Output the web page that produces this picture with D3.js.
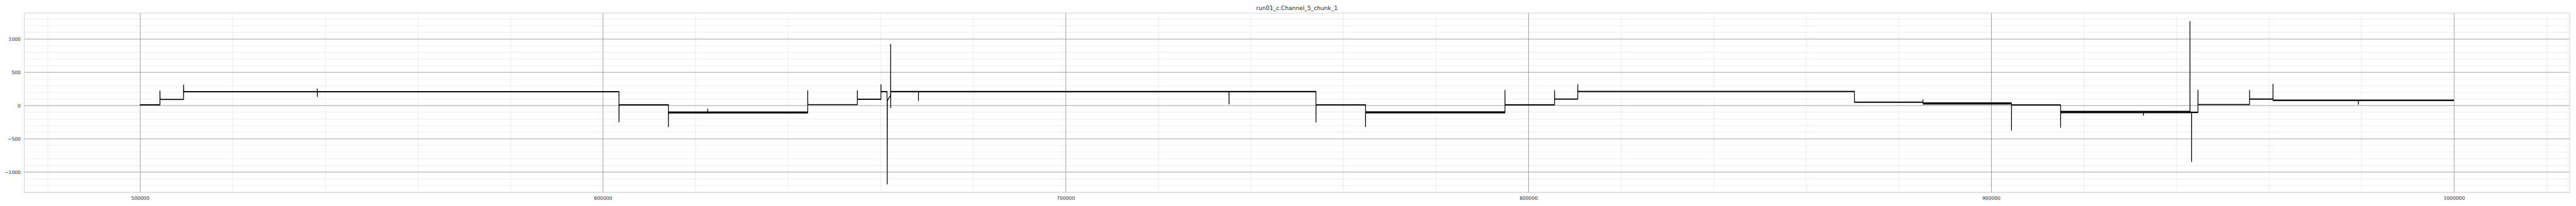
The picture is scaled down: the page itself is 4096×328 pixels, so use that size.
<!DOCTYPE html>
<html><head><meta charset="utf-8">
<script src="https://cdn.jsdelivr.net/npm/d3@7"></script>
<style>html,body{margin:0;padding:0;background:#fff;overflow:hidden}</style>
</head><body>
<svg id="chart" width="4096" height="328" viewBox="0 0 5400 432"></svg>
<script>
// ---------- data ----------
const title = "run01_c.Channel_5_chunk_1";

const xTicks = [500000, 600000, 700000, 800000, 900000, 1000000];
const xTickLabels = ["500000", "600000", "700000", "800000", "900000", "1000000"];
const yTicks = [-1000, -500, 0, 500, 1000];
const yTickLabels = ["\u22121000", "\u2212500", "0", "500", "1000"];

// plateau segments: start, end, level and half-width of the noise band
const segStart  = [500000, 504300, 509400, 603490, 614180, 644280, 655000, 660100, 662200, 754100, 764810, 794940, 805650, 810670, 870440, 885260, 904390, 915000, 942950, 944680, 955830, 960890];
const segEnd    = [504300, 509400, 603490, 614180, 644280, 655000, 660100, 661440, 754100, 764810, 794940, 805650, 810670, 870440, 885260, 904390, 915000, 942950, 944680, 955830, 960890, 1000000];
const segLevel  = [9, 88, 205, 9, -107, 11, 91, 207, 207, 9, -105, 9, 95, 209, 48, 29, 7, -100, -105, 12, 95, 76];
const segSpread = [9, 8, 9, 9, 17, 8, 9, 9, 11, 8, 18, 9, 9, 10, 10, 19, 8, 20, 12, 9, 10, 12];

// trace through transitions and spikes
const traceX = [500000, 504300, 504300, 504350, 509400, 509400, 509450, 538290, 538290, 538300, 538310,
  603490, 603490, 603520, 614180, 614180, 614200, 622640, 622640, 622650, 644280, 644280, 644300,
  655000, 655000, 655030, 660100, 660100, 660130, 661400, 661440, 661450, 661480, 661800, 662100, 662180,
  662190, 662200, 662220, 668210, 668210, 668230, 735310, 735310, 735330, 754100, 754100, 754130,
  764810, 764810, 764830, 794940, 794940, 794960, 805650, 805650, 805670, 810670, 810670, 810690,
  870440, 870450, 885260, 885260, 885280, 904390, 904390, 904410, 915000, 915000, 915020,
  932920, 932920, 932940, 942950, 942950, 942970, 943290, 943290, 943310, 944680, 944680, 944700,
  955830, 955830, 955850, 960890, 960890, 960910, 979340, 979340, 979360, 1000000];
const traceY = [9, 9, 221, 88, 88, 309, 205, 205, 252, 126, 205,
  205, -255, 9, 9, -326, -107, -107, -52, -107, -107, 226, 12,
  12, 226, 91, 91, 317, 207, 207, 80, -1188, 66, 110, 138, 150,
  924, -40, 207, 207, 66, 207, 207, 14, 207, 207, -257, 9,
  9, -326, -105, -105, 231, 9, 9, 229, 95, 95, 317, 209,
  209, 48, 48, 90, 29, 29, -379, 7, 7, -336, -100,
  -100, -155, -100, -100, 1264, -110, -110, -850, -105, -105, 233, 12,
  12, 231, 95, 95, 324, 76, 76, 12, 76, 76];

// ---------- layout ----------
const W = 5400, H = 432;
const mLeft = 51, mRight = 5386.7, mTop = 27.3, mBottom = 404;
const svg = d3.select("#chart");
const font = "DejaVu Sans, sans-serif";

const x = d3.scaleLinear().domain([475000, 1025000]).range([mLeft, mRight]);
const yMin = d3.min(traceY), yMax = d3.max(traceY), pad = (yMax - yMin) * 0.05;
const y = d3.scaleLinear().domain([yMin - pad, yMax + pad]).range([mBottom, mTop]);

svg.append("rect").attr("width", W).attr("height", H).attr("fill", "#fff");

// minor grid
const xMinor = d3.range(480000, 1025000, 20000).filter(v => v % 100000 !== 0);
const yMinor = d3.range(-1300, 1400, 100).filter(v => v % 500 !== 0);
const gxm = svg.append("g").attr("transform", `translate(0,${mBottom})`)
  .call(d3.axisBottom(x).tickValues(xMinor).tickSize(-(mBottom - mTop)).tickFormat(""));
const gym = svg.append("g").attr("transform", `translate(${mLeft},0)`)
  .call(d3.axisLeft(y).tickValues(yMinor).tickSize(-(mRight - mLeft)).tickFormat(""));
[gxm, gym].forEach(g => {
  g.select(".domain").remove();
  g.selectAll("line").attr("stroke", "#e3e3e3").attr("stroke-width", 0.9);
});

// major grid + labels
const gx = svg.append("g").attr("transform", `translate(0,${mBottom})`)
  .call(d3.axisBottom(x).tickValues(xTicks).tickSize(-(mBottom - mTop)).tickFormat((d, i) => xTickLabels[i]));
const gy = svg.append("g").attr("transform", `translate(${mLeft},0)`)
  .call(d3.axisLeft(y).tickValues(yTicks).tickSize(-(mRight - mLeft)).tickFormat((d, i) => yTickLabels[i]));
[gx, gy].forEach(g => {
  g.select(".domain").remove();
  g.selectAll("line").attr("stroke", "#858585").attr("stroke-width", 1);
  g.selectAll("text").attr("fill", "#262626").attr("font-family", font).attr("font-size", 10);
});
gx.selectAll("text").attr("y", 15).attr("dy", 0);
gy.selectAll("text").attr("x", -7.7).attr("dy", "0.36em");

// data: noise bands (speckled outer envelope + solid core)
const plot = svg.append("g");
plot.selectAll("rect.outer").data(segStart).join("rect").attr("class", "outer")
  .attr("x", (d, i) => x(segStart[i]))
  .attr("width", (d, i) => x(segEnd[i]) - x(segStart[i]))
  .attr("y", (d, i) => y(segLevel[i] + segSpread[i]))
  .attr("height", (d, i) => y(segLevel[i] - segSpread[i]) - y(segLevel[i] + segSpread[i]))
  .attr("fill", "#000").attr("fill-opacity", 0.6);
plot.selectAll("rect.core").data(segStart).join("rect").attr("class", "core")
  .attr("x", (d, i) => x(segStart[i]))
  .attr("width", (d, i) => x(segEnd[i]) - x(segStart[i]))
  .attr("y", (d, i) => y(segLevel[i] + segSpread[i] * 0.65))
  .attr("height", (d, i) => y(segLevel[i] - segSpread[i] * 0.65) - y(segLevel[i] + segSpread[i] * 0.65))
  .attr("fill", "#000");

// data: trace
const line = d3.line().x(i => x(traceX[i])).y(i => y(traceY[i]));
plot.append("path").attr("d", line(d3.range(traceX.length)))
  .attr("fill", "none").attr("stroke", "#000").attr("stroke-width", 1.6).attr("stroke-linejoin", "miter");

// spines
svg.append("rect").attr("x", mLeft).attr("y", mTop).attr("width", mRight - mLeft).attr("height", mBottom - mTop)
  .attr("fill", "none").attr("stroke", "#d0d0d0").attr("stroke-width", 1.25);

// title
svg.append("text").attr("x", (mLeft + mRight) / 2).attr("y", 21.3).attr("text-anchor", "middle")
  .attr("font-family", font).attr("font-size", 12).attr("fill", "#262626").text(title);
</script>
</body></html>
